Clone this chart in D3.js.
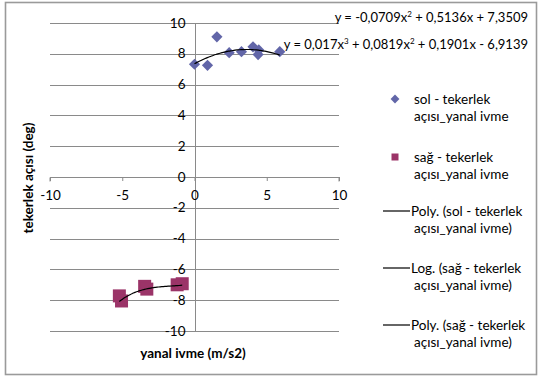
<html>
<meta charset="utf-8">
<head>
<script src="https://cdn.jsdelivr.net/npm/d3@7"></script>
<style>
html, body {
  margin:0;
  padding:0;
  background:#ffffff;
}
svg { display:block; }
</style>
</head>
<body>
<svg class="svg"></svg>
<script>

// sol - tekerlek açısı_yanal ivme (diamonds)
const solX = [0, 0.9, 1.55, 2.4, 3.25, 4.05, 4.45, 4.4, 5.9]
const solY = [7.32, 7.25, 9.1, 8.07, 8.14, 8.45, 8.25, 7.95, 8.14]

// sağ - tekerlek açısı_yanal ivme (squares)
const sagX = [-5.2, -5.05, -3.45, -3.3, -1.2, -0.85]
const sagY = [-7.72, -8.05, -7.1, -7.28, -7.0, -6.93]

// trendline coefficients as printed on the chart (highest power first)
const solPoly = [-0.0709, 0.5136, 7.3509]
const sagPoly = [0.017, 0.0819, 0.1901, -6.9139]

const xTicks = [-10, -5, 0, 5, 10]
const yTicks = [-10, -8, -6, -4, -2, 0, 2, 4, 6, 8, 10]

const legendNames = [
  ["sol - tekerlek", "açısı_yanal ivme"],
  ["sağ - tekerlek", "açısı_yanal ivme"],
  ["Poly. (sol - tekerlek", "açısı_yanal ivme)"],
  ["Log. (sağ - tekerlek", "açısı_yanal ivme)"],
  ["Poly. (sağ - tekerlek", "açısı_yanal ivme)"]
]
const legendKind = ["diamond", "square", "line", "line", "line"]

const W = 541, H = 379
const font = "Lato, 'Open Sans', sans-serif"
const gridCol = "#8a8a8a"
const solCol = "#6266a8"
const sagCol = "#9b3468"

var svg = d3.select("svg")
  .attr("width", W)
  .attr("height", H)

var xScale = d3.scaleLinear().domain([-10, 10]).range([50, 339])
var yScale = d3.scaleLinear().domain([-10, 10]).range([331, 23])

// outer frame
svg.append("rect")
  .attr("x", 5.5).attr("y", 2.5)
  .attr("width", 531).attr("height", 372)
  .attr("fill", "#fff")
  .attr("stroke", "#9a9a9a")
  .attr("stroke-width", 1.6)

// horizontal gridlines
svg.append("g").selectAll("line")
  .data(yTicks.filter(d => d != 0))
  .enter().append("line")
  .attr("x1", xScale(-10)).attr("x2", xScale(10))
  .attr("y1", d => Math.round(yScale(d)) + 0.5)
  .attr("y2", d => Math.round(yScale(d)) + 0.5)
  .attr("stroke", gridCol)
  .attr("stroke-width", 1)

// y axis at x = 0
svg.append("line")
  .attr("x1", Math.round(xScale(0)) + 0.5).attr("x2", Math.round(xScale(0)) + 0.5)
  .attr("y1", yScale(10)).attr("y2", yScale(-10))
  .attr("stroke", gridCol)

// x axis at y = 0
var xAxis = d3.axisBottom(xScale)
  .tickValues(xTicks)
  .tickSize(4)
  .tickFormat(d => d)

var gx = svg.append("g")
  .attr("transform", "translate(0," + Math.round(yScale(0)) + ")")
  .call(xAxis)
gx.select(".domain").attr("stroke", gridCol).attr("d", "M" + xScale(-10) + ",4.5V0.5H" + xScale(10) + "V4.5")
gx.selectAll(".tick line").attr("stroke", gridCol)
gx.selectAll(".tick text")
  .attr("y", 13)
  .style("font-family", font)
  .style("font-size", "13.5px")
  .attr("fill", "#000")

// y tick labels
svg.append("g").selectAll("text")
  .data(yTicks)
  .enter().append("text")
  .attr("x", xScale(0) - 9)
  .attr("y", d => yScale(d) + 4.5)
  .attr("text-anchor", "end")
  .style("font-family", font)
  .style("font-size", "13.5px")
  .text(d => d)

// trendlines
function poly(c, x) {
  return c.reduce((acc, k) => acc * x + k, 0)
}
var line = d3.line()
  .x(d => xScale(d[0]))
  .y(d => yScale(d[1]))
  .curve(d3.curveMonotoneX)

function trend(c, xs) {
  var ext = d3.extent(xs)
  return d3.range(0, 41).map(i => {
    var x = ext[0] + (ext[1] - ext[0]) * i / 40
    return [x, poly(c, x)]
  })
}

// markers
svg.append("g").selectAll("path")
  .data(solX.map((x, i) => [x, solY[i]]))
  .enter().append("path")
  .attr("d", d3.symbol().type(d3.symbolDiamond2).size(80))
  .attr("transform", d => "translate(" + xScale(d[0]) + "," + yScale(d[1]) + ")")
  .attr("fill", solCol)

svg.append("g").selectAll("rect")
  .data(sagX.map((x, i) => [x, sagY[i]]))
  .enter().append("rect")
  .attr("x", d => xScale(d[0]) - 6.5)
  .attr("y", d => yScale(d[1]) - 6.5)
  .attr("width", 13).attr("height", 13)
  .attr("fill", sagCol)

svg.append("path")
  .datum(trend(solPoly, solX))
  .attr("d", line)
  .attr("fill", "none")
  .attr("stroke", "#000")
  .attr("stroke-width", 1.2)

svg.append("path")
  .datum(trend(sagPoly, sagX))
  .attr("d", line)
  .attr("fill", "none")
  .attr("stroke", "#000")
  .attr("stroke-width", 1.2)

// equations
function equation(y, parts) {
  var t = svg.append("text")
    .attr("x", 528).attr("y", y)
    .attr("text-anchor", "end")
    .style("font-family", font)
    .style("font-size", "13px")
  parts.forEach(p => {
    if (p[1]) {
      t.append("tspan").text(p[0]).attr("dy", -5).style("font-size", "8px")
    } else {
      t.append("tspan").text(p[0]).attr("dy", p[2] || 0)
    }
  })
}
equation(22, [["y = -0,0709x"], ["2", true], [" + 0,5136x + 7,3509", false, 5]])
equation(49, [["y = 0,017x"], ["3", true], [" + 0,0819x", false, 5], ["2", true], [" + 0,1901x - 6,9139", false, 5]])

// axis titles
svg.append("text")
  .attr("transform", "translate(33," + 178 + ") rotate(-90)")
  .attr("text-anchor", "middle")
  .style("font-family", font)
  .style("font-size", "13.5px")
  .style("font-weight", "bold")
  .text("tekerlek açısı (deg)")

svg.append("text")
  .attr("x", 193).attr("y", 358)
  .attr("text-anchor", "middle")
  .style("font-family", font)
  .style("font-size", "13.5px")
  .style("font-weight", "bold")
  .text("yanal ivme (m/s2)")

// legend
const legTop = [99, 157, 211, 268, 325]
var leg = svg.append("g")
legendNames.forEach((n, i) => {
  var cy = legTop[i]
  if (legendKind[i] == "diamond") {
    leg.append("path")
      .attr("d", d3.symbol().type(d3.symbolDiamond2).size(50))
      .attr("transform", "translate(395," + cy + ")")
      .attr("fill", solCol)
  } else if (legendKind[i] == "square") {
    leg.append("rect")
      .attr("x", 391.5).attr("y", cy - 3.5)
      .attr("width", 7).attr("height", 7)
      .attr("fill", sagCol)
  } else {
    leg.append("line")
      .attr("x1", 383).attr("x2", 410)
      .attr("y1", cy).attr("y2", cy)
      .attr("stroke", "#000")
      .attr("stroke-width", 1.2)
  }
  var tx = legendKind[i] == "line" ? 411 : 414
  leg.append("text")
    .attr("x", tx).attr("y", cy + 4.5)
    .style("font-family", font)
    .style("font-size", "13.5px")
    .text(n[0])
  leg.append("text")
    .attr("x", 414).attr("y", cy + 22)
    .style("font-family", font)
    .style("font-size", "13.5px")
    .text(n[1])
})

</script>
</body>
</html>
